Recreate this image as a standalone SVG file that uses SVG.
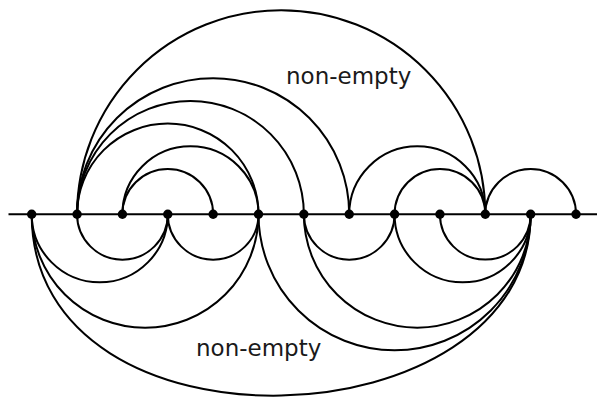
<svg xmlns="http://www.w3.org/2000/svg" width="597" height="397" viewBox="0 0 597 397">
<style>
.arc{fill:none;stroke:#000;stroke-width:2}
.axis{stroke:#000;stroke-width:2}
.dot{fill:#000}
.lbl{font-family:"DejaVu Sans",sans-serif;font-size:23px;fill:#1a1a1a}
</style>
<rect width="597" height="397" fill="#fff"/>
<g id="connectors">
<line class="axis" x1="8.5" y1="214.3" x2="597" y2="214.3"/>
<!-- upper arcs -->
<path class="arc" d="M77.06,214.3 A204.12,204.12 0 0 1 485.3,214.3"/>
<path class="arc" d="M77.06,214.3 A136.08,136.08 0 0 1 349.22,214.3"/>
<path class="arc" d="M77.06,214.3 A113.4,113.4 0 0 1 303.86,214.3"/>
<path class="arc" d="M77.06,214.3 A90.72,90.72 0 0 1 258.5,214.3"/>
<path class="arc" d="M122.42,214.3 A68.04,68.04 0 0 1 258.5,214.3"/>
<path class="arc" d="M122.42,214.3 A45.36,45.36 0 0 1 213.14,214.3"/>
<path class="arc" d="M349.22,214.3 A68.04,68.04 0 0 1 485.3,214.3"/>
<path class="arc" d="M394.58,214.3 A45.36,45.36 0 0 1 485.3,214.3"/>
<path class="arc" d="M485.3,214.3 A45.36,45.36 0 0 1 576.02,214.3"/>
<!-- lower arcs -->
<path class="arc" d="M31.7,214.3 A68.04,68.04 0 0 0 167.78,214.3"/>
<path class="arc" d="M77.06,214.3 A45.36,45.36 0 0 0 167.78,214.3"/>
<path class="arc" d="M31.7,214.3 A113.4,113.4 0 0 0 258.5,214.3"/>
<path class="arc" d="M167.78,214.3 A45.36,45.36 0 0 0 258.5,214.3"/>
<path class="arc" d="M258.5,214.3 A136.08,136.08 0 0 0 530.66,214.3"/>
<path class="arc" d="M303.86,214.3 A45.36,45.36 0 0 0 394.58,214.3"/>
<path class="arc" d="M303.86,214.3 A113.4,113.4 0 0 0 530.66,214.3"/>
<path class="arc" d="M394.58,214.3 A68.04,68.04 0 0 0 530.66,214.3"/>
<path class="arc" d="M439.94,214.3 A45.36,45.36 0 0 0 530.66,214.3"/>
<path class="arc" d="M31.7,214.3 C31.7,466 530.66,446 530.66,214.3"/>
</g>
<g id="n0"><circle class="dot" cx="31.7" cy="214.3" r="4.7"/></g>
<g id="n1"><circle class="dot" cx="77.06" cy="214.3" r="4.7"/></g>
<g id="n2"><circle class="dot" cx="122.42" cy="214.3" r="4.7"/></g>
<g id="n3"><circle class="dot" cx="167.78" cy="214.3" r="4.7"/></g>
<g id="n4"><circle class="dot" cx="213.14" cy="214.3" r="4.7"/></g>
<g id="n5"><circle class="dot" cx="258.5" cy="214.3" r="4.7"/></g>
<g id="n6"><circle class="dot" cx="303.86" cy="214.3" r="4.7"/></g>
<g id="n7"><circle class="dot" cx="349.22" cy="214.3" r="4.7"/></g>
<g id="n8"><circle class="dot" cx="394.58" cy="214.3" r="4.7"/></g>
<g id="n9"><circle class="dot" cx="439.94" cy="214.3" r="4.7"/></g>
<g id="n10"><circle class="dot" cx="485.3" cy="214.3" r="4.7"/></g>
<g id="n11"><circle class="dot" cx="530.66" cy="214.3" r="4.7"/></g>
<g id="n12"><circle class="dot" cx="576.02" cy="214.3" r="4.7"/></g>
<g id="labels">
<text class="lbl" x="286" y="83.5">non-empty</text>
<text class="lbl" x="196" y="356">non-empty</text>
</g>
</svg>
